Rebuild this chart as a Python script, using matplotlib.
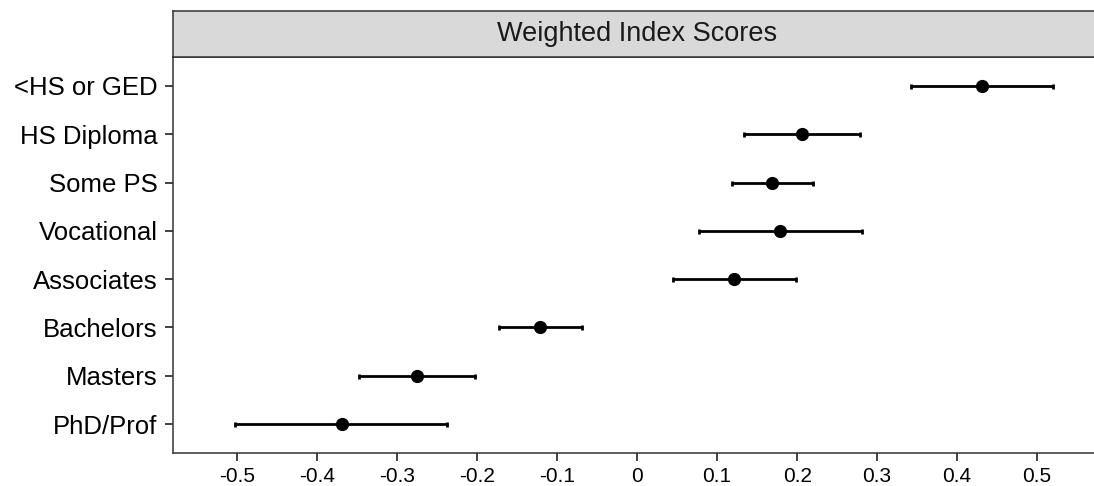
import numpy as np
import matplotlib.pyplot as plt

plt.rcParams['font.family'] = ['Liberation Sans', 'DejaVu Sans']

categories = ['<HS or GED', 'HS Diploma', 'Some PS', 'Vocational',
              'Associates', 'Bachelors', 'Masters', 'PhD/Prof']
estimate = [0.431, 0.206, 0.169, 0.179, 0.121, -0.121, -0.275, -0.369]
lower = [0.342, 0.134, 0.119, 0.077, 0.045, -0.173, -0.347, -0.503]
upper = [0.520, 0.279, 0.220, 0.281, 0.198, -0.069, -0.203, -0.237]
xticks = [-0.5, -0.4, -0.3, -0.2, -0.1, 0, 0.1, 0.2, 0.3, 0.4, 0.5]
xticklabels = ['-0.5', '-0.4', '-0.3', '-0.2', '-0.1', '0', '0.1', '0.2', '0.3', '0.4', '0.5']

est = np.array(estimate)
lo = np.array(lower)
hi = np.array(upper)
ypos = np.arange(len(categories))[::-1] + 1

W, H = 1094, 486
fig = plt.figure(figsize=(W / 100, H / 100), dpi=100)
edge = '#333333'

# main panel (right border runs off the image like the reference)
ax = fig.add_axes([173 / W, (H - 453) / H, (1102 - 173) / W, (453 - 57) / H])
ax.errorbar(est, ypos, xerr=[est - lo, hi - est], fmt='o', color='black',
            ms=8.5, elinewidth=2, capsize=1.8, capthick=2)
ax.set_xlim(-0.58, 0.581)
ax.set_ylim(0.4, len(categories) + 0.6)
ax.set_yticks(ypos)
ax.set_yticklabels(categories, fontsize=18.5, color='black')
ax.set_xticks(xticks)
ax.set_xticklabels(xticklabels, fontsize=15, color='black')
ax.tick_params(axis='y', length=6, width=1.3, color=edge, pad=5)
ax.tick_params(axis='x', length=6, width=1.3, color=edge, pad=4)
for sp in ax.spines.values():
    sp.set_color(edge)
    sp.set_linewidth(1.1)

# facet strip
strip = fig.add_axes([173 / W, (H - 57) / H, (1102 - 173) / W, 46 / H])
strip.set_facecolor('#D9D9D9')
strip.set_xticks([])
strip.set_yticks([])
for sp in strip.spines.values():
    sp.set_color(edge)
    sp.set_linewidth(1.1)
strip.text(637 / W * W / (1102 - 173) - 173 / (1102 - 173), 0.5, 'Weighted Index Scores',
           transform=strip.transAxes, ha='center', va='center', fontsize=19.5, color='#1a1a1a')

fig.savefig('out.png', dpi=100)
